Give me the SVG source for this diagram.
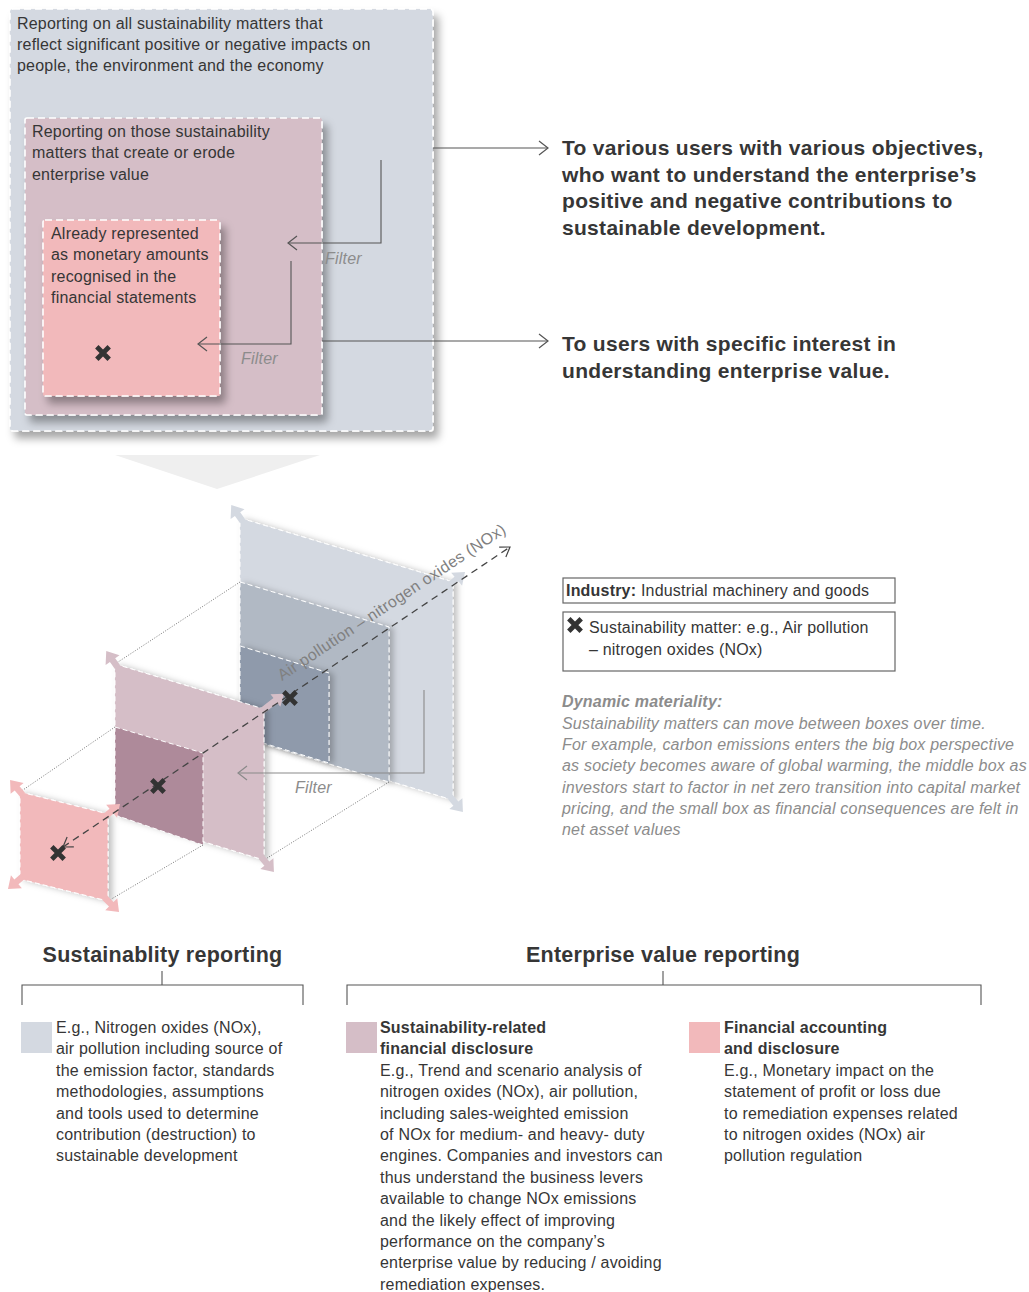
<svg xmlns="http://www.w3.org/2000/svg" width="1029" height="1292" viewBox="0 0 1029 1292">
<defs>
<style>
text { font-family: "Liberation Sans", Arial, Helvetica, sans-serif; }
.t { font-size: 16px; letter-spacing: 0.2px; fill: #363636; }
.b { font-weight: bold; }
.h { font-size: 21px; font-weight: bold; letter-spacing: 0.3px; fill: #363636; }
.hd { font-size: 21.5px; font-weight: bold; letter-spacing: 0.25px; fill: #363636; }
.it { font-size: 16px; font-style: italic; letter-spacing: 0.2px; fill: #8c8c8c; }
.box { stroke: #ffffff; stroke-width: 1.6; stroke-dasharray: 7 4; }
.pan { stroke: #ffffff; stroke-width: 1; stroke-dasharray: 5 3; }
.conn { fill: none; stroke: #555555; stroke-width: 1.1; }
.conng { fill: none; stroke: #8a8a8a; stroke-width: 1.1; }
.dot { fill: none; stroke: #555555; stroke-width: 0.8; stroke-dasharray: 1 1.6; }
.brk { fill: none; stroke: #555555; stroke-width: 1.1; }
.lg { fill: none; stroke: #666666; stroke-width: 1.2; }
</style>
<filter id="sh" x="-10%" y="-10%" width="130%" height="130%">
<feDropShadow dx="5" dy="7" stdDeviation="4.5" flood-color="#000" flood-opacity="0.35"/>
</filter>
<filter id="sh2" x="-10%" y="-10%" width="130%" height="130%">
<feDropShadow dx="4" dy="1" stdDeviation="3" flood-color="#000" flood-opacity="0.25"/>
</filter>
<marker id="ah" markerUnits="userSpaceOnUse" markerWidth="14" markerHeight="18" viewBox="-12 -9 14 18" refX="0" refY="0" orient="auto-start-reverse">
<path d="M-9,-7 L0,0 L-9,7" fill="none" stroke="#555555" stroke-width="1.2"/>
</marker>
<marker id="ahg" markerUnits="userSpaceOnUse" markerWidth="14" markerHeight="18" viewBox="-12 -9 14 18" refX="0" refY="0" orient="auto-start-reverse">
<path d="M-9,-7 L0,0 L-9,7" fill="none" stroke="#8a8a8a" stroke-width="1.2"/>
</marker>
<marker id="ahd" markerUnits="userSpaceOnUse" markerWidth="14" markerHeight="18" viewBox="-12 -9 14 18" refX="0" refY="0" orient="auto-start-reverse">
<path d="M-9,-6 L0,0 L-9,6" fill="none" stroke="#444444" stroke-width="1.2"/>
</marker>
<path id="xm" d="M-6.2,-6.2 L6.2,6.2 M6.2,-6.2 L-6.2,6.2" stroke="#333333" stroke-width="4.8" fill="none"/>
<path id="ca" d="M-3,-3.2 H6 V-8.5 L17,0 L6,8.5 V3.2 H-3 Z"/>
<path id="cal" d="M-3,-3.2 H17 V-8 L28,0 L17,8 V3.2 H-3 Z"/>
</defs>

<rect x="0" y="0" width="1029" height="1292" fill="#ffffff"/>

<!-- Top nested boxes -->
<g id="box-outer">
<rect x="10" y="9" width="423" height="422" rx="3" fill="#d4d9e1" class="box" filter="url(#sh)"/>
<text class="t"><tspan x="17" y="29">Reporting on all sustainability matters that</tspan><tspan x="17" y="50">reflect significant positive or negative impacts on</tspan><tspan x="17" y="71">people, the environment and the economy</tspan></text>
</g>
<g id="box-middle">
<rect x="25" y="118" width="297" height="297" rx="2" fill="#d5bec7" class="box" filter="url(#sh)"/>
<text class="t"><tspan x="32" y="137">Reporting on those sustainability</tspan><tspan x="32" y="158">matters that create or erode</tspan><tspan x="32" y="180">enterprise value</tspan></text>
</g>
<g id="box-inner">
<rect x="43" y="220" width="177" height="176" rx="2" fill="#f2b9bb" class="box" filter="url(#sh)"/>
<text class="t"><tspan x="51" y="239">Already represented</tspan><tspan x="51" y="260">as monetary amounts</tspan><tspan x="51" y="282">recognised in the</tspan><tspan x="51" y="303">financial statements</tspan></text>
<use href="#xm" x="103" y="353"/>
</g>

<g id="top-connectors">
<path class="conn" d="M381,160 V243 H288" marker-end="url(#ah)"/>
<path class="conn" d="M291,261 V344 H198" marker-end="url(#ah)"/>
<path class="conn" d="M433,148 H548" marker-end="url(#ah)"/>
<path class="conn" d="M322,341 H548" marker-end="url(#ah)"/>
<text class="it" x="325" y="264">Filter</text>
<text class="it" x="241" y="364">Filter</text>
</g>

<g id="users-all">
<text class="h"><tspan x="562" y="155">To various users with various objectives,</tspan><tspan x="562" y="182">who want to understand the enterprise’s</tspan><tspan x="562" y="208">positive and negative contributions to</tspan><tspan x="562" y="235">sustainable development.</tspan></text>
</g>
<g id="users-ev">
<text class="h"><tspan x="562" y="351">To users with specific interest in</tspan><tspan x="562" y="378">understanding enterprise value.</tspan></text>
</g>

<!-- funnel -->
<polygon points="115,455 320,455 217,489" fill="#efefef"/>

<!-- 3D back group -->
<g id="panel-back">
<polygon points="240,518 453,582 453,800 240,736" fill="#d4d9e1" class="pan" filter="url(#sh2)"/>
<polygon points="240,582 389,627 389,782 240,737" fill="#b1b9c4" class="pan" filter="url(#sh2)"/>
<polygon points="240,646 329,673 329,763 240,736" fill="#8f9aab" class="pan" filter="url(#sh2)"/>
<use href="#ca" transform="translate(241,519) rotate(-125)" fill="#d4d9e1"/>
<use href="#ca" transform="translate(452,583) rotate(-40)" fill="#d4d9e1"/>
<use href="#ca" transform="translate(452,799) rotate(50)" fill="#d4d9e1"/>
</g>

<g id="links-back">
<path class="dot" d="M240,582 L115,664"/>
<path class="dot" d="M389,782 L264,860"/>
</g>

<!-- 3D middle group -->
<g id="panel-middle">
<polygon points="115,664 264,709 264,860 115,815" fill="#d5bec7" class="pan" filter="url(#sh2)"/>
<polygon points="115,727 203,753 203,845 115,815" fill="#ae8a9a" class="pan"/>
<use href="#ca" transform="translate(116,665) rotate(-125)" fill="#d5bec7"/>
<use href="#cal" transform="translate(262,711) rotate(-38)" fill="#d5bec7"/>
<use href="#ca" transform="translate(263,859) rotate(50)" fill="#d5bec7"/>
</g>

<g id="links-middle">
<path class="dot" d="M115,727 L20,792"/>
<path class="dot" d="M203,845 L108,901"/>
</g>

<!-- 3D front group -->
<g id="panel-front">
<polygon points="20,792 108,814 108,901 20,879" fill="#f2b9bb" class="pan" filter="url(#sh2)"/>
<use href="#ca" transform="translate(21,793) rotate(-130)" fill="#f2b9bb"/>
<use href="#ca" transform="translate(107,815) rotate(-40)" fill="#f2b9bb"/>
<use href="#ca" transform="translate(107,900) rotate(45)" fill="#f2b9bb"/>
<use href="#ca" transform="translate(21,878) rotate(140)" fill="#f2b9bb"/>
</g>

<g id="axis">
<path d="M63,847 L510,547" fill="none" stroke="#444444" stroke-width="1.3" stroke-dasharray="7 5" marker-start="url(#ahd)" marker-end="url(#ahd)"/>
<use href="#xm" x="58" y="853"/>
<use href="#xm" x="158" y="786"/>
<use href="#xm" x="290" y="698"/>
<text x="282" y="681" transform="rotate(-33.5 282 681)" style="font-size:16px; letter-spacing:0.35px; fill:#808080;">Air pollution –  nitrogen oxides (NOx)</text>
</g>

<g id="filter-3d">
<path class="conng" d="M424,690 V773 H238" marker-end="url(#ahg)"/>
<text class="it" x="295" y="793">Filter</text>
</g>

<!-- Legend -->
<g id="legend-industry">
<rect class="lg" x="563" y="578" width="332" height="25"/>
<text class="t" x="566" y="596"><tspan class="b">Industry:</tspan> Industrial machinery and goods</text>
</g>
<g id="legend-matter">
<rect class="lg" x="563" y="612" width="332" height="59"/>
<use href="#xm" x="575" y="625"/>
<text class="t"><tspan x="589" y="633">Sustainability matter: e.g., Air pollution</tspan><tspan x="589" y="655">–  nitrogen oxides (NOx)</tspan></text>
</g>

<g id="dynamic-materiality">
<text class="it"><tspan x="562" y="707" font-weight="bold">Dynamic materiality:</tspan><tspan x="562" y="728.5">Sustainability matters can move between boxes over time.</tspan><tspan x="562" y="750">For example, carbon emissions enters the big box perspective</tspan><tspan x="562" y="771">as society becomes aware of global warming, the middle box as</tspan><tspan x="562" y="792.5">investors start to factor in net zero transition into capital market</tspan><tspan x="562" y="814">pricing, and the small box as financial consequences are felt in</tspan><tspan x="562" y="835">net asset values</tspan></text>
</g>

<!-- Bottom section -->
<g id="heading-sr">
<text class="hd" x="162.5" y="962" text-anchor="middle">Sustainablity reporting</text>
</g>
<g id="heading-ev">
<text class="hd" x="663" y="962" text-anchor="middle">Enterprise value reporting</text>
</g>
<g id="brackets">
<path class="brk" d="M22,1005 V985 H303 V1005 M162,971 V985"/>
<path class="brk" d="M347,1005 V985 H981 V1005 M663,971 V985"/>
</g>

<g id="col-sr">
<rect x="21" y="1022" width="31" height="31" fill="#d4d9e1"/>
<text class="t"><tspan x="56" y="1033">E.g., Nitrogen oxides (NOx),</tspan><tspan x="56" y="1054.4">air pollution including source of</tspan><tspan x="56" y="1075.8">the emission factor, standards</tspan><tspan x="56" y="1097.2">methodologies, assumptions</tspan><tspan x="56" y="1118.6">and tools used to determine</tspan><tspan x="56" y="1140">contribution (destruction) to</tspan><tspan x="56" y="1161.4">sustainable development</tspan></text>
</g>

<g id="col-srfd">
<rect x="346" y="1022" width="31" height="31" fill="#d5bec7"/>
<text class="t"><tspan class="b" x="380" y="1033">Sustainability-related</tspan><tspan class="b" x="380" y="1054.4">financial disclosure</tspan><tspan x="380" y="1075.8">E.g., Trend and scenario analysis of</tspan><tspan x="380" y="1097.2">nitrogen oxides (NOx), air pollution,</tspan><tspan x="380" y="1118.6">including sales-weighted emission</tspan><tspan x="380" y="1140">of NOx for medium- and heavy- duty</tspan><tspan x="380" y="1161.4">engines. Companies and investors can</tspan><tspan x="380" y="1182.8">thus understand the business levers</tspan><tspan x="380" y="1204.2">available to change NOx emissions</tspan><tspan x="380" y="1225.6">and the likely effect of improving</tspan><tspan x="380" y="1247">performance on the company’s</tspan><tspan x="380" y="1268.4">enterprise value by reducing / avoiding</tspan><tspan x="380" y="1289.8">remediation expenses.</tspan></text>
</g>

<g id="col-fad">
<rect x="689" y="1022" width="31" height="31" fill="#f2b9bb"/>
<text class="t"><tspan class="b" x="724" y="1033">Financial accounting</tspan><tspan class="b" x="724" y="1054.4">and disclosure</tspan><tspan x="724" y="1075.8">E.g., Monetary impact on the</tspan><tspan x="724" y="1097.2">statement of profit or loss due</tspan><tspan x="724" y="1118.6">to remediation expenses related</tspan><tspan x="724" y="1140">to nitrogen oxides (NOx) air</tspan><tspan x="724" y="1161.4">pollution regulation</tspan></text>
</g>
</svg>
